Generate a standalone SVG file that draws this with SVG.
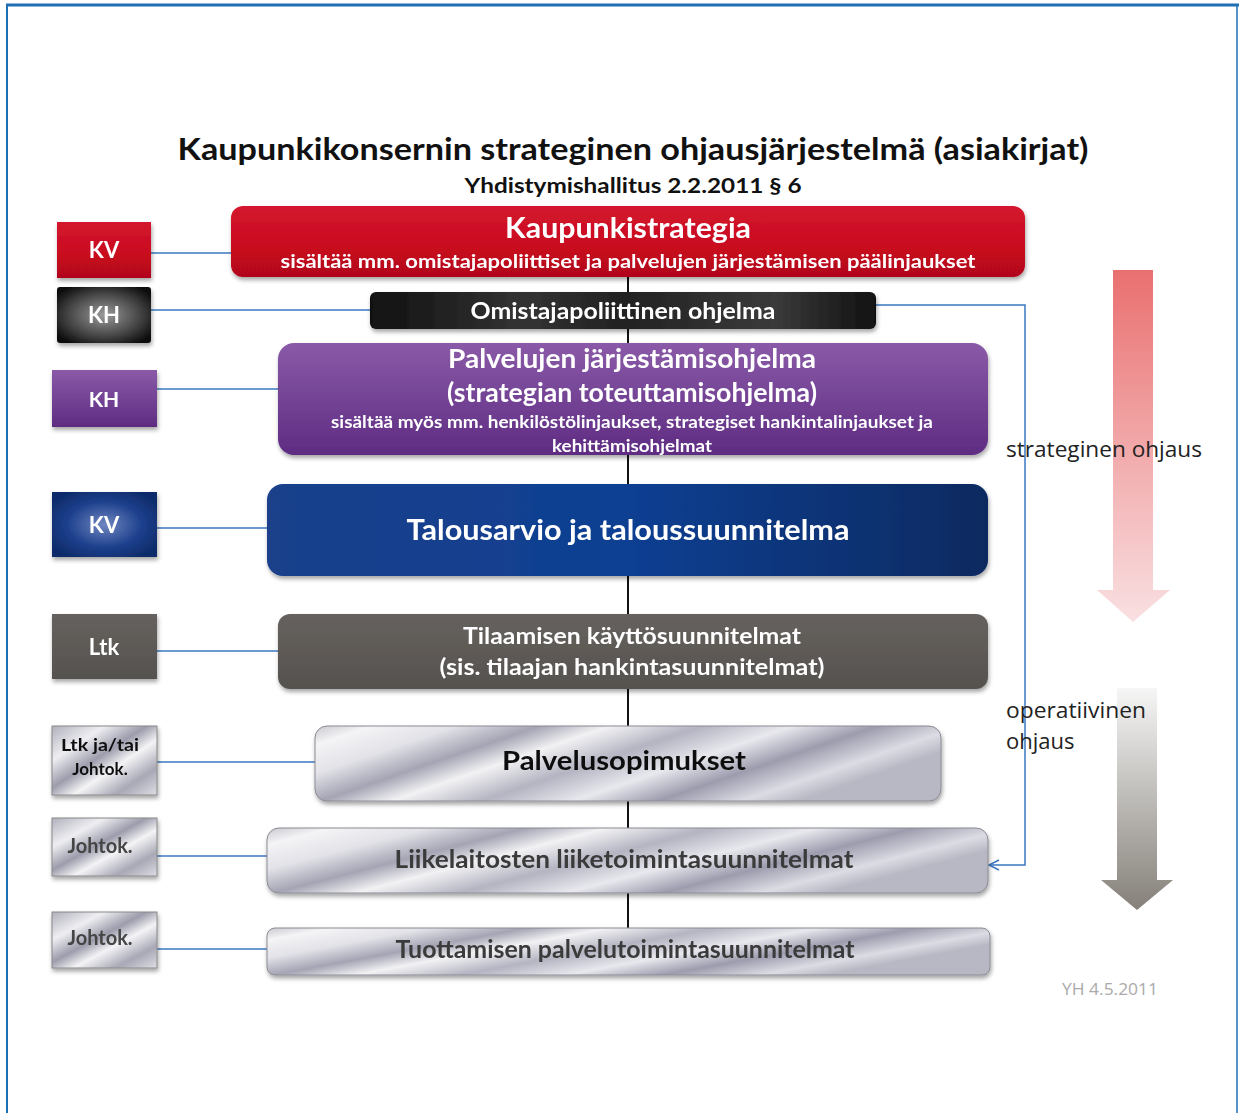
<svg xmlns="http://www.w3.org/2000/svg" width="1239" height="1113" viewBox="0 0 1239 1113">
<defs>
<style>
.t{font-family:Lato,"Open Sans","Liberation Sans",sans-serif;font-weight:bold;text-anchor:middle}
.w{fill:#fff}
.link{stroke:#3a78c0;stroke-width:1.5;fill:none}
.plain{font-family:"Open Sans","Liberation Sans",sans-serif;fill:#222}
</style>
<filter id="sh" x="-5%" y="-10%" width="110%" height="130%">
<feDropShadow dx="1" dy="3" stdDeviation="2" flood-color="#000" flood-opacity="0.35"/>
</filter>
<linearGradient id="red" x1="0" y1="0" x2="0" y2="1">
<stop offset="0" stop-color="#d4182e"/><stop offset="0.6" stop-color="#c8081e"/><stop offset="1" stop-color="#b0061a"/>
</linearGradient>
<linearGradient id="blk" x1="0" y1="0" x2="1" y2="0">
<stop offset="0" stop-color="#111"/><stop offset="0.3" stop-color="#333"/><stop offset="0.5" stop-color="#222"/><stop offset="0.8" stop-color="#3a3a3a"/><stop offset="1" stop-color="#111"/>
</linearGradient>
<radialGradient id="blkL" cx="0.5" cy="0.5" r="0.6">
<stop offset="0" stop-color="#9a9a9a"/><stop offset="0.6" stop-color="#4a4a4a"/><stop offset="1" stop-color="#111"/>
</radialGradient>
<linearGradient id="pur" x1="0" y1="0" x2="0" y2="1">
<stop offset="0" stop-color="#8a5aa8"/><stop offset="1" stop-color="#5e2c82"/>
</linearGradient>
<linearGradient id="blu" x1="0" y1="0" x2="1" y2="0">
<stop offset="0" stop-color="#1a3f8a"/><stop offset="0.5" stop-color="#0e3f92"/><stop offset="1" stop-color="#0a2a60"/>
</linearGradient>
<radialGradient id="bluL" cx="0.5" cy="0.5" r="0.6">
<stop offset="0" stop-color="#6f86c0"/><stop offset="0.6" stop-color="#1c3f8c"/><stop offset="1" stop-color="#0e2c6a"/>
</radialGradient>
<linearGradient id="gry" x1="0" y1="0" x2="0" y2="1">
<stop offset="0" stop-color="#66625e"/><stop offset="1" stop-color="#55524f"/>
</linearGradient>
<linearGradient id="slv" x1="0" y1="0" x2="1" y2="0.35">
<stop offset="0" stop-color="#c8c8d0"/><stop offset="0.08" stop-color="#f4f4f6"/><stop offset="0.2" stop-color="#e2e2e8"/>
<stop offset="0.32" stop-color="#a4a4b4"/><stop offset="0.42" stop-color="#f2f2f4"/><stop offset="0.55" stop-color="#b4b4c2"/>
<stop offset="0.68" stop-color="#e8e8ee"/><stop offset="0.8" stop-color="#9c9cae"/><stop offset="0.92" stop-color="#dcdce4"/><stop offset="1" stop-color="#b8b8c4"/>
</linearGradient>
<linearGradient id="slvS" x1="0" y1="0" x2="1" y2="1">
<stop offset="0" stop-color="#b0b0bc"/><stop offset="0.25" stop-color="#eeeef2"/><stop offset="0.45" stop-color="#9c9cac"/>
<stop offset="0.6" stop-color="#f4f4f6"/><stop offset="0.8" stop-color="#a8a8b6"/><stop offset="1" stop-color="#dedee4"/>
</linearGradient>
<linearGradient id="arR" x1="0" y1="0" x2="0" y2="1">
<stop offset="0" stop-color="#ea7070"/><stop offset="1" stop-color="#f9e0e2"/>
</linearGradient>
<linearGradient id="arG" x1="0" y1="0" x2="0" y2="1">
<stop offset="0" stop-color="#f6f6f6"/><stop offset="1" stop-color="#858079"/>
</linearGradient>
<marker id="open" viewBox="0 0 12 12" refX="11" refY="6" markerWidth="12" markerHeight="12" markerUnits="userSpaceOnUse" orient="auto" overflow="visible">
<path d="M1,1 L11,6 L1,11" fill="none" stroke="#3a78c0" stroke-width="1.5"/>
</marker>
</defs>
<rect width="1239" height="1113" fill="#fff"/>
<g id="frame" fill="none" stroke="#1f6fb5">
<line x1="6" y1="5" x2="1239" y2="5" stroke-width="3"/>
<line x1="7" y1="4" x2="7" y2="1113" stroke-width="2"/>
<line x1="1237" y1="5" x2="1237" y2="1113" stroke-width="1.5"/>
</g>
<text class="t" x="633" y="160" font-size="30" fill="#111" textLength="911" lengthAdjust="spacingAndGlyphs">Kaupunkikonsernin strateginen ohjausjärjestelmä (asiakirjat)</text>
<text class="t" x="633" y="193" font-size="20" fill="#111" textLength="337" lengthAdjust="spacingAndGlyphs">Yhdistymishallitus 2.2.2011 § 6</text>

<g id="arrows">
<path d="M1113,270 H1153 V590 H1170 L1133,622 L1097,590 H1113 Z" fill="url(#arR)"/>
<path d="M1117,688 H1157 V880 H1173 L1137,910 L1101,880 H1117 Z" fill="url(#arG)"/>
</g>

<g id="connectors">
<line x1="628" y1="277" x2="628" y2="930" stroke="#111" stroke-width="2"/>
<line class="link" x1="151" y1="253" x2="231" y2="253"/>
<line class="link" x1="151" y1="310" x2="370" y2="310"/>
<line class="link" x1="157" y1="389" x2="278" y2="389"/>
<line class="link" x1="157" y1="528" x2="267" y2="528"/>
<line class="link" x1="157" y1="651" x2="278" y2="651"/>
<line class="link" x1="157" y1="762" x2="315" y2="762"/>
<line class="link" x1="157" y1="856" x2="267" y2="856"/>
<line class="link" x1="157" y1="949" x2="267" y2="949"/>
<path class="link" d="M876,305 H1025 V865 H989" marker-end="url(#open)"/>
</g>

<g id="n-kaupunkistrategia" filter="url(#sh)">
<rect x="231" y="206" width="794" height="71" rx="12" fill="url(#red)"/>
<text class="t w" x="628" y="238" font-size="28" textLength="246" lengthAdjust="spacingAndGlyphs">Kaupunkistrategia</text>
<text class="t w" x="628" y="268" font-size="19" textLength="695" lengthAdjust="spacingAndGlyphs">sisältää mm. omistajapoliittiset ja palvelujen järjestämisen päälinjaukset</text>
</g>
<g id="n-omistaja" filter="url(#sh)">
<rect x="370" y="292" width="506" height="37" rx="6" fill="url(#blk)"/>
<text class="t w" x="623" y="319" font-size="22" textLength="305" lengthAdjust="spacingAndGlyphs">Omistajapoliittinen ohjelma</text>
</g>
<g id="n-palvelujen" filter="url(#sh)">
<rect x="278" y="343" width="710" height="112" rx="16" fill="url(#pur)"/>
<text class="t w" x="632" y="368" font-size="26" textLength="368" lengthAdjust="spacingAndGlyphs">Palvelujen järjestämisohjelma</text>
<text class="t w" x="632" y="402" font-size="26" textLength="370" lengthAdjust="spacingAndGlyphs">(strategian toteuttamisohjelma)</text>
<text class="t w" x="632" y="428" font-size="17" textLength="602" lengthAdjust="spacingAndGlyphs">sisältää  myös mm. henkilöstölinjaukset,  strategiset hankintalinjaukset ja</text>
<text class="t w" x="632" y="452" font-size="17" textLength="160" lengthAdjust="spacingAndGlyphs">kehittämisohjelmat</text>
</g>
<g id="n-talousarvio" filter="url(#sh)">
<rect x="267" y="484" width="721" height="92" rx="16" fill="url(#blu)"/>
<text class="t w" x="628" y="540" font-size="29" textLength="443" lengthAdjust="spacingAndGlyphs">Talousarvio ja taloussuunnitelma</text>
</g>
<g id="n-tilaamisen" filter="url(#sh)">
<rect x="278" y="614" width="710" height="75" rx="12" fill="url(#gry)"/>
<text class="t w" x="632" y="644" font-size="22" textLength="338" lengthAdjust="spacingAndGlyphs">Tilaamisen käyttösuunnitelmat</text>
<text class="t w" x="632" y="675" font-size="22" textLength="385" lengthAdjust="spacingAndGlyphs">(sis. tilaajan hankintasuunnitelmat)</text>
</g>
<g id="n-palvelusopimukset" filter="url(#sh)">
<rect x="315" y="726" width="626" height="75" rx="12" fill="url(#slv)" stroke="#8a8a94" stroke-width="1"/>
<text class="t" x="624" y="770" font-size="27" fill="#111" textLength="244" lengthAdjust="spacingAndGlyphs">Palvelusopimukset</text>
</g>
<g id="n-liikelaitosten" filter="url(#sh)">
<rect x="267" y="828" width="721" height="65" rx="12" fill="url(#slv)" stroke="#8a8a94" stroke-width="1"/>
<text class="t" x="624" y="868" font-size="24" fill="#3a3a3a" textLength="459" lengthAdjust="spacingAndGlyphs">Liikelaitosten liiketoimintasuunnitelmat</text>
</g>
<g id="n-tuottamisen" filter="url(#sh)">
<rect x="267" y="928" width="723" height="47" rx="8" fill="url(#slv)" stroke="#8a8a94" stroke-width="1"/>
<text class="t" x="625" y="958" font-size="24" fill="#3a3a3a" textLength="459" lengthAdjust="spacingAndGlyphs">Tuottamisen palvelutoimintasuunnitelmat</text>
</g>

<g id="l-kv1" filter="url(#sh)">
<rect x="57" y="222" width="94" height="56" fill="url(#red)"/>
<text class="t w" x="104" y="258" font-size="22">KV</text>
</g>
<g id="l-kh1" filter="url(#sh)">
<rect x="57" y="287" width="94" height="56" rx="3" fill="url(#blkL)"/>
<text class="t w" x="104" y="323" font-size="22">KH</text>
</g>
<g id="l-kh2" filter="url(#sh)">
<rect x="52" y="370" width="105" height="57" fill="url(#pur)"/>
<text class="t w" x="104" y="407" font-size="21">KH</text>
</g>
<g id="l-kv2" filter="url(#sh)">
<rect x="52" y="492" width="105" height="65" fill="url(#bluL)"/>
<text class="t w" x="104" y="533" font-size="22">KV</text>
</g>
<g id="l-ltk" filter="url(#sh)">
<rect x="52" y="614" width="105" height="65" fill="url(#gry)"/>
<text class="t w" x="104" y="655" font-size="22">Ltk</text>
</g>
<g id="l-ltkjohtok" filter="url(#sh)">
<rect x="52" y="726" width="105" height="69" fill="url(#slvS)" stroke="#888" stroke-width="1"/>
<text class="t" x="100" y="751" font-size="17" fill="#111" textLength="78" lengthAdjust="spacingAndGlyphs">Ltk  ja/tai</text>
<text class="t" x="100" y="775" font-size="17" fill="#111">Johtok.</text>
</g>
<g id="l-johtok1" filter="url(#sh)">
<rect x="52" y="818" width="105" height="58" fill="url(#slvS)" stroke="#888" stroke-width="1"/>
<text class="t" x="100" y="853" font-size="20" fill="#444">Johtok.</text>
</g>
<g id="l-johtok2" filter="url(#sh)">
<rect x="52" y="912" width="105" height="56" fill="url(#slvS)" stroke="#888" stroke-width="1"/>
<text class="t" x="100" y="945" font-size="20" fill="#444">Johtok.</text>
</g>

<text class="plain" x="1006" y="457" font-size="22" textLength="196" lengthAdjust="spacingAndGlyphs">strateginen ohjaus</text>
<text class="plain" x="1006" y="718" font-size="22" textLength="140" lengthAdjust="spacingAndGlyphs">operatiivinen</text>
<text class="plain" x="1006" y="749" font-size="22">ohjaus</text>
<text x="1062" y="995" font-family="'Open Sans','Liberation Sans',sans-serif" font-size="16" fill="#aaa" textLength="96" lengthAdjust="spacingAndGlyphs">YH 4.5.2011</text>
</svg>
